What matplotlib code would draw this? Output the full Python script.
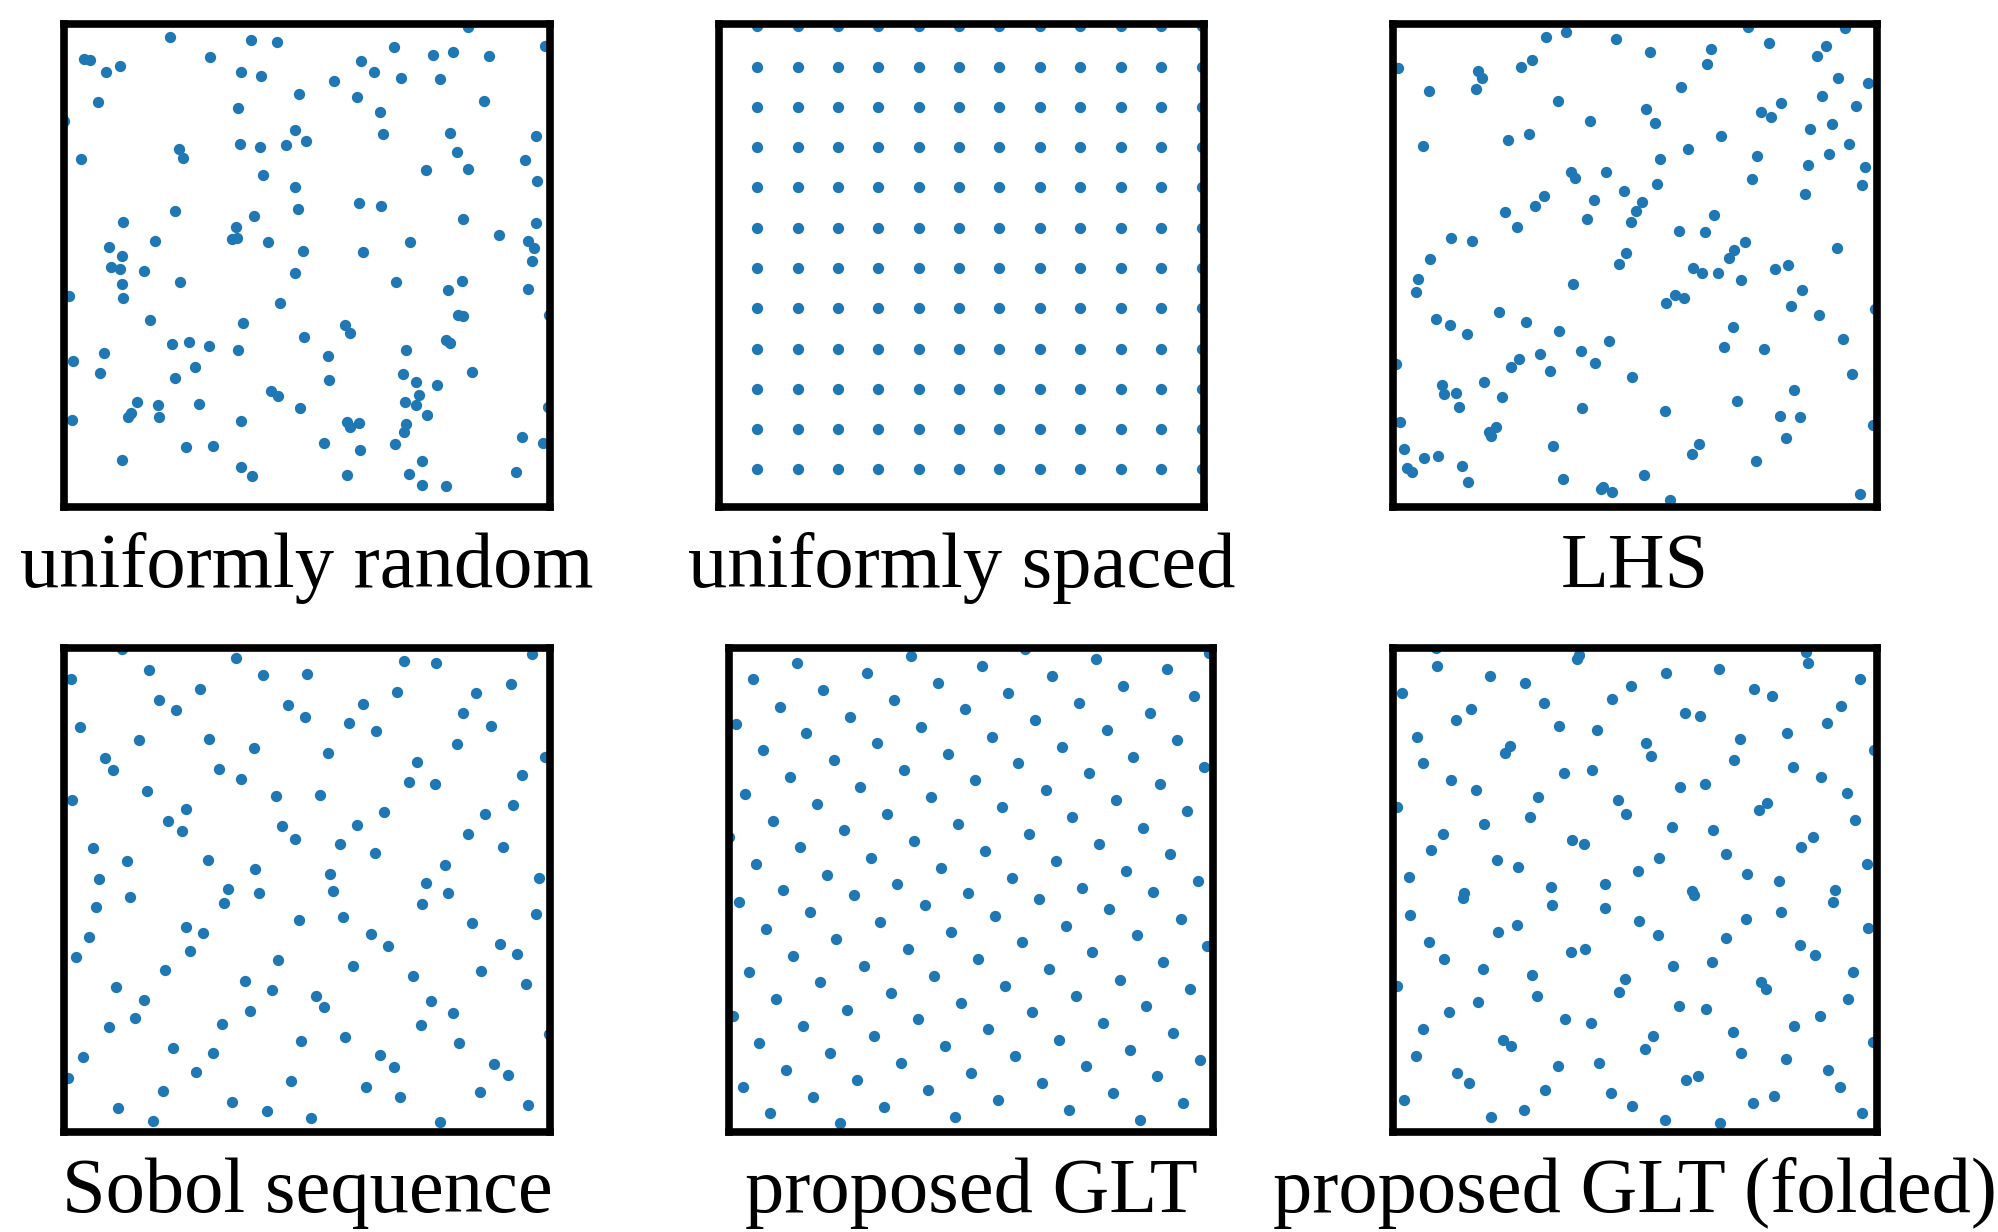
import matplotlib
matplotlib.use("Agg")
import matplotlib.pyplot as plt

# ---------------------------------------------------------------
# Sample points in the unit square, one list of (x, y) per scheme
# ---------------------------------------------------------------
UNIFORM_RANDOM = [
    (0.218, 0.974), (0.385, 0.967), (0.438, 0.962), (0.832, 0.994), (0.990, 0.954),
    (0.041, 0.927), (0.053, 0.925), (0.116, 0.914), (0.087, 0.901), (0.301, 0.932),
    (0.364, 0.900), (0.405, 0.892), (0.678, 0.952), (0.759, 0.935), (0.800, 0.941),
    (0.874, 0.934), (0.612, 0.923), (0.637, 0.901), (0.693, 0.889), (0.774, 0.886),
    (0.555, 0.881), (0.484, 0.856), (0.602, 0.848), (0.069, 0.839), (0.359, 0.827),
    (0.651, 0.818), (0.864, 0.840), (0.001, 0.800), (0.475, 0.780), (0.497, 0.758),
    (0.656, 0.772), (0.794, 0.774), (0.972, 0.769), (0.237, 0.741), (0.244, 0.723),
    (0.363, 0.752), (0.404, 0.745), (0.457, 0.749), (0.036, 0.721), (0.808, 0.734),
    (0.949, 0.719), (0.744, 0.697), (0.832, 0.700), (0.973, 0.674), (0.409, 0.687),
    (0.475, 0.662), (0.228, 0.613), (0.121, 0.591), (0.606, 0.630), (0.652, 0.623),
    (0.481, 0.616), (0.390, 0.602), (0.820, 0.597), (0.971, 0.587), (0.354, 0.579),
    (0.346, 0.555), (0.355, 0.557), (0.187, 0.551), (0.419, 0.548), (0.711, 0.549),
    (0.896, 0.563), (0.955, 0.551), (0.967, 0.536), (0.093, 0.538), (0.119, 0.519),
    (0.492, 0.530), (0.615, 0.527), (0.962, 0.509), (0.097, 0.496),
    (0.115, 0.492), (0.165, 0.488), (0.119, 0.461), (0.121, 0.432), (0.239, 0.466),
    (0.010, 0.436), (0.475, 0.485), (0.684, 0.466), (0.790, 0.450), (0.818, 0.468),
    (0.954, 0.452), (0.444, 0.423), (0.177, 0.387), (0.369, 0.380), (0.811, 0.397),
    (0.820, 0.396), (0.997, 0.397), (0.579, 0.376), (0.589, 0.361), (0.493, 0.352),
    (0.223, 0.337), (0.257, 0.342), (0.298, 0.334), (0.359, 0.326), (0.785, 0.346),
    (0.795, 0.340), (0.703, 0.325), (0.082, 0.318), (0.019, 0.303), (0.543, 0.312),
    (0.269, 0.290), (0.075, 0.278), (0.228, 0.268), (0.697, 0.275), (0.840, 0.279),
    (0.546, 0.263), (0.725, 0.258), (0.767, 0.252), (0.425, 0.240), (0.441, 0.230),
    (0.731, 0.232), (0.150, 0.218), (0.193, 0.212), (0.278, 0.214), (0.701, 0.218),
    (0.724, 0.211), (0.486, 0.204), (0.995, 0.207), (0.138, 0.194), (0.132, 0.186),
    (0.196, 0.186), (0.016, 0.181), (0.364, 0.179), (0.747, 0.190), (0.582, 0.176),
    (0.589, 0.166), (0.608, 0.173), (0.704, 0.171), (0.700, 0.156), (0.943, 0.144),
    (0.986, 0.132), (0.535, 0.132), (0.682, 0.130), (0.252, 0.125), (0.307, 0.127),
    (0.610, 0.119), (0.120, 0.097), (0.736, 0.096), (0.364, 0.082), (0.387, 0.064),
    (0.582, 0.067), (0.709, 0.068), (0.930, 0.073), (0.737, 0.046), (0.787, 0.043),
]

SPACED_LEVELS = [0.078, 0.162, 0.245, 0.328, 0.412, 0.495,
                 0.578, 0.662, 0.745, 0.828, 0.912, 0.995]

LHS = [
    (0.317, 0.973), (0.358, 0.983), (0.461, 0.968), (0.530, 0.943), (0.658, 0.948),
    (0.649, 0.918), (0.734, 0.993), (0.777, 0.961), (0.894, 0.954), (0.876, 0.934),
    (0.933, 0.991), (0.919, 0.889), (0.981, 0.878), (0.010, 0.908), (0.176, 0.903),
    (0.183, 0.888), (0.172, 0.865), (0.264, 0.910), (0.287, 0.925), (0.074, 0.861),
    (0.340, 0.841), (0.522, 0.825), (0.542, 0.794), (0.596, 0.869), (0.760, 0.817),
    (0.782, 0.807), (0.801, 0.836), (0.887, 0.851), (0.957, 0.830), (0.862, 0.783),
    (0.908, 0.792), (0.406, 0.800), (0.238, 0.760), (0.280, 0.772), (0.062, 0.747),
    (0.678, 0.768), (0.610, 0.741), (0.942, 0.752), (0.551, 0.720), (0.752, 0.727),
    (0.857, 0.709), (0.900, 0.730), (0.976, 0.703), (0.367, 0.694), (0.377, 0.682),
    (0.440, 0.693), (0.741, 0.680), (0.546, 0.669), (0.969, 0.667), (0.851, 0.649),
    (0.311, 0.644), (0.293, 0.624), (0.477, 0.654), (0.416, 0.636), (0.514, 0.631),
    (0.502, 0.613), (0.231, 0.610), (0.257, 0.579), (0.401, 0.596), (0.491, 0.590),
    (0.664, 0.605), (0.590, 0.571), (0.644, 0.569), (0.119, 0.556), (0.164, 0.551),
    (0.727, 0.549), (0.704, 0.533), (0.694, 0.516), (0.917, 0.536), (0.077, 0.513),
    (0.481, 0.525), (0.466, 0.503), (0.790, 0.493), (0.817, 0.501),
    (0.051, 0.472), (0.048, 0.445), (0.371, 0.461), (0.619, 0.495), (0.638, 0.485),
    (0.672, 0.485), (0.719, 0.471), (0.846, 0.450), (0.822, 0.417), (0.565, 0.423),
    (0.583, 0.438), (0.601, 0.433), (0.880, 0.397), (0.995, 0.410), (0.088, 0.390),
    (0.117, 0.376), (0.152, 0.359), (0.220, 0.403), (0.274, 0.384), (0.342, 0.364),
    (0.446, 0.343), (0.702, 0.372), (0.683, 0.332), (0.767, 0.328), (0.930, 0.347),
    (0.006, 0.297), (0.244, 0.289), (0.260, 0.306), (0.304, 0.317), (0.324, 0.282),
    (0.388, 0.322), (0.417, 0.298), (0.493, 0.269), (0.949, 0.276), (0.101, 0.253),
    (0.106, 0.233), (0.131, 0.237), (0.136, 0.208), (0.189, 0.258), (0.225, 0.227),
    (0.390, 0.205), (0.563, 0.199), (0.711, 0.219), (0.829, 0.243), (0.800, 0.189),
    (0.840, 0.186), (0.015, 0.177), (0.992, 0.169), (0.198, 0.155), (0.213, 0.165),
    (0.202, 0.146), (0.022, 0.120), (0.331, 0.126), (0.632, 0.130), (0.617, 0.110),
    (0.811, 0.143), (0.064, 0.101), (0.093, 0.106), (0.142, 0.084), (0.751, 0.095),
    (0.029, 0.081), (0.039, 0.072), (0.154, 0.052), (0.351, 0.057), (0.519, 0.066),
    (0.430, 0.037), (0.434, 0.042), (0.453, 0.032), (0.572, 0.014), (0.964, 0.026),
]

SOBOL = [
    (0.119, 0.997), (0.353, 0.979), (0.699, 0.973), (0.766, 0.968), (0.962, 0.987),
    (0.014, 0.935), (0.174, 0.955), (0.410, 0.944), (0.500, 0.946), (0.279, 0.916),
    (0.196, 0.892), (0.231, 0.871), (0.460, 0.882), (0.495, 0.857), (0.615, 0.884),
    (0.587, 0.846), (0.643, 0.828), (0.686, 0.910), (0.847, 0.906), (0.920, 0.925),
    (0.821, 0.866), (0.878, 0.838), (0.809, 0.802), (0.033, 0.836), (0.154, 0.809),
    (0.299, 0.813), (0.391, 0.793), (0.544, 0.784), (0.084, 0.773), (0.100, 0.748),
    (0.318, 0.751), (0.364, 0.730), (0.726, 0.764), (0.710, 0.724), (0.763, 0.718),
    (0.990, 0.775), (0.943, 0.738), (0.017, 0.686), (0.171, 0.705), (0.437, 0.694),
    (0.527, 0.696), (0.252, 0.667), (0.215, 0.643), (0.243, 0.621), (0.658, 0.661),
    (0.866, 0.656), (0.924, 0.676), (0.448, 0.632), (0.475, 0.606), (0.603, 0.634),
    (0.568, 0.596), (0.639, 0.577), (0.832, 0.615), (0.904, 0.588), (0.060, 0.586),
    (0.129, 0.559), (0.296, 0.563), (0.394, 0.543), (0.547, 0.534), (0.783, 0.552),
    (0.978, 0.525), (0.073, 0.523), (0.745, 0.514), (0.337, 0.503), (0.402, 0.494),
    (0.554, 0.497),
    (0.066, 0.465), (0.136, 0.485), (0.329, 0.473), (0.790, 0.494), (0.737, 0.472),
    (0.971, 0.451), (0.052, 0.402), (0.025, 0.362), (0.250, 0.423), (0.287, 0.412),
    (0.260, 0.375), (0.483, 0.439), (0.575, 0.445), (0.632, 0.409), (0.667, 0.384),
    (0.840, 0.432), (0.897, 0.389), (0.932, 0.368), (0.207, 0.335), (0.440, 0.355),
    (0.595, 0.342), (0.718, 0.322), (0.859, 0.333), (0.951, 0.305), (0.108, 0.300),
    (0.372, 0.312), (0.429, 0.293), (0.164, 0.272), (0.519, 0.280), (0.536, 0.258),
    (0.756, 0.270), (0.801, 0.245), (0.147, 0.235), (0.092, 0.216), (0.383, 0.251),
    (0.325, 0.224), (0.734, 0.222), (0.487, 0.189), (0.579, 0.196), (0.813, 0.183),
    (0.997, 0.202), (0.224, 0.173), (0.307, 0.163), (0.040, 0.154), (0.650, 0.160),
    (0.678, 0.134), (0.885, 0.140), (0.914, 0.118), (0.008, 0.112), (0.271, 0.125),
    (0.467, 0.105), (0.204, 0.085), (0.622, 0.092), (0.691, 0.072), (0.856, 0.082),
    (0.112, 0.050), (0.345, 0.062), (0.418, 0.043), (0.955, 0.055), (0.183, 0.022),
    (0.509, 0.028), (0.774, 0.020),
]

GLT = [
    (0.140, 0.970), (0.049, 0.935), (0.285, 0.948), (0.376, 0.983), (0.522, 0.963),
    (0.612, 0.997), (0.759, 0.977), (0.668, 0.942), (0.905, 0.956), (0.992, 0.990),
    (0.815, 0.921), (0.960, 0.900), (0.195, 0.914), (0.432, 0.928), (0.577, 0.907),
    (0.341, 0.893), (0.105, 0.879), (0.488, 0.873), (0.724, 0.886), (0.870, 0.866),
    (0.014, 0.844), (0.251, 0.858), (0.397, 0.837), (0.633, 0.851), (0.780, 0.831),
    (0.926, 0.810), (0.160, 0.824), (0.306, 0.803), (0.543, 0.817), (0.689, 0.796),
    (0.070, 0.789), (0.452, 0.782), (0.835, 0.775), (0.216, 0.769), (0.598, 0.762),
    (0.362, 0.748), (0.744, 0.741), (0.981, 0.755), (0.125, 0.733), (0.508, 0.727),
    (0.271, 0.713), (0.654, 0.706), (0.891, 0.720), (0.034, 0.699), (0.418, 0.692),
    (0.181, 0.678), (0.564, 0.671), (0.800, 0.685), (0.947, 0.664), (0.327, 0.657),
    (0.709, 0.651), (0.090, 0.643), (0.473, 0.636), (0.856, 0.629), (0.237, 0.623),
    (0.619, 0.616), (0.001, 0.609), (0.383, 0.602), (0.765, 0.595), (0.147, 0.588),
    (0.529, 0.581), (0.912, 0.574), (0.293, 0.567), (0.675, 0.560), (0.056, 0.553),
    (0.439, 0.546), (0.821, 0.539), (0.202, 0.532), (0.585, 0.525), (0.968, 0.519),
    (0.348, 0.512), (0.730, 0.505), (0.111, 0.501), (0.494, 0.494),
    (0.021, 0.475), (0.258, 0.489), (0.404, 0.468), (0.640, 0.482), (0.786, 0.461),
    (0.877, 0.496), (0.167, 0.454), (0.313, 0.433), (0.550, 0.447), (0.696, 0.426),
    (0.933, 0.440), (0.076, 0.419), (0.459, 0.413), (0.842, 0.406), (0.222, 0.399),
    (0.605, 0.392), (0.988, 0.385), (0.132, 0.364), (0.369, 0.378), (0.515, 0.357),
    (0.751, 0.371), (0.042, 0.330), (0.278, 0.344), (0.424, 0.322), (0.661, 0.337),
    (0.897, 0.351), (0.187, 0.309), (0.570, 0.302), (0.807, 0.315), (0.098, 0.274),
    (0.334, 0.288), (0.717, 0.281), (0.953, 0.295), (0.480, 0.267), (0.862, 0.260),
    (0.244, 0.253), (0.626, 0.247), (0.008, 0.240), (0.390, 0.233), (0.153, 0.219),
    (0.535, 0.212), (0.773, 0.225), (0.918, 0.205), (0.299, 0.198), (0.682, 0.191),
    (0.063, 0.184), (0.446, 0.177), (0.829, 0.170), (0.209, 0.163), (0.591, 0.156),
    (0.974, 0.149), (0.355, 0.143), (0.738, 0.136), (0.118, 0.129), (0.501, 0.122),
    (0.884, 0.115), (0.264, 0.107), (0.647, 0.101), (0.028, 0.094), (0.411, 0.087),
    (0.793, 0.080), (0.174, 0.073), (0.556, 0.066), (0.939, 0.059), (0.320, 0.052),
    (0.703, 0.045), (0.084, 0.039), (0.466, 0.032), (0.849, 0.025), (0.229, 0.018),
]

GLT_FOLDED = [
    (0.089, 0.999), (0.091, 0.963), (0.384, 0.985), (0.380, 0.977), (0.854, 0.991),
    (0.857, 0.970), (0.019, 0.908), (0.200, 0.942), (0.273, 0.928), (0.312, 0.887),
    (0.453, 0.894), (0.492, 0.921), (0.565, 0.949), (0.673, 0.956), (0.746, 0.915),
    (0.784, 0.901), (0.965, 0.935), (0.926, 0.880), (0.896, 0.845), (0.130, 0.852),
    (0.161, 0.873), (0.342, 0.838), (0.422, 0.831), (0.604, 0.866), (0.634, 0.859),
    (0.815, 0.824), (0.716, 0.811), (0.050, 0.817), (0.242, 0.797), (0.231, 0.783),
    (0.523, 0.804), (0.534, 0.776), (0.704, 0.769), (0.994, 0.790), (0.061, 0.762),
    (0.353, 0.741), (0.412, 0.748), (0.826, 0.755), (0.884, 0.734), (0.119, 0.727),
    (0.172, 0.707), (0.592, 0.713), (0.645, 0.720), (0.937, 0.700), (0.009, 0.672),
    (0.300, 0.693), (0.464, 0.686), (0.481, 0.658), (0.773, 0.679), (0.757, 0.665),
    (0.954, 0.644), (0.284, 0.651), (0.188, 0.637), (0.576, 0.630), (0.662, 0.623),
    (0.103, 0.616), (0.868, 0.610), (0.843, 0.589), (0.370, 0.603), (0.395, 0.596),
    (0.687, 0.575), (0.078, 0.582), (0.550, 0.567), (0.214, 0.561), (0.259, 0.547),
    (0.507, 0.540), (0.732, 0.533), (0.979, 0.554), (0.033, 0.526), (0.798, 0.519),
    (0.147, 0.494), (0.326, 0.506), (0.439, 0.512), (0.913, 0.501),
    (0.145, 0.483), (0.036, 0.448), (0.328, 0.469), (0.437, 0.462), (0.617, 0.497),
    (0.621, 0.489), (0.910, 0.476), (0.801, 0.455), (0.729, 0.441), (0.509, 0.435),
    (0.548, 0.407), (0.689, 0.400), (0.981, 0.421), (0.217, 0.414), (0.256, 0.428),
    (0.075, 0.393), (0.105, 0.358), (0.367, 0.372), (0.397, 0.379), (0.186, 0.337),
    (0.287, 0.324), (0.298, 0.282), (0.479, 0.317), (0.467, 0.289), (0.579, 0.344),
    (0.660, 0.351), (0.840, 0.386), (0.871, 0.365), (0.951, 0.331), (0.760, 0.310),
    (0.771, 0.296), (0.008, 0.302), (0.175, 0.268), (0.590, 0.261), (0.647, 0.254),
    (0.940, 0.275), (0.882, 0.240), (0.116, 0.247), (0.063, 0.212), (0.356, 0.233),
    (0.409, 0.226), (0.829, 0.219), (0.702, 0.206), (0.537, 0.199), (0.227, 0.191),
    (0.244, 0.178), (0.520, 0.171), (0.718, 0.164), (0.992, 0.185), (0.047, 0.157),
    (0.340, 0.136), (0.426, 0.143), (0.812, 0.150), (0.899, 0.129), (0.924, 0.094),
    (0.133, 0.122), (0.158, 0.101), (0.314, 0.087), (0.450, 0.081), (0.606, 0.108),
    (0.631, 0.115), (0.022, 0.067), (0.202, 0.032), (0.270, 0.046), (0.494, 0.053),
    (0.743, 0.060), (0.787, 0.074), (0.562, 0.025), (0.676, 0.019), (0.968, 0.039),
]

LABELS = ["uniformly random", "uniformly spaced", "LHS",
          "Sobol sequence", "proposed GLT", "proposed GLT (folded)"]

spaced = [(x, y) for y in SPACED_LEVELS for x in SPACED_LEVELS]
PANELS = [UNIFORM_RANDOM, spaced, LHS, SOBOL, GLT, GLT_FOLDED]

# axes boxes in pixels: left, top, right, bottom
FIG_W, FIG_H = 1998, 1232
BOXES = [
    (64, 24, 550, 507), (719, 24, 1204, 507), (1393, 24, 1877, 507),
    (64, 648, 550, 1132), (729, 648, 1213, 1132), (1393, 648, 1877, 1132),
]

fig = plt.figure(figsize=(FIG_W / 100, FIG_H / 100), dpi=100)
fig.patch.set_facecolor("white")

for pts, label, (l, t, r, b) in zip(PANELS, LABELS, BOXES):
    ax = fig.add_axes([l / FIG_W, 1 - b / FIG_H, (r - l) / FIG_W, (b - t) / FIG_H])
    xs = [p[0] for p in pts]
    ys = [p[1] for p in pts]
    ax.scatter(xs, ys, s=66, color="#1f77b4", linewidths=0)
    ax.set_xlim(0, 1)
    ax.set_ylim(0, 1)
    ax.set_xticks([])
    ax.set_yticks([])
    for sp in ax.spines.values():
        sp.set_linewidth(5.5)
        sp.set_color("black")
    ax.text(0.5, -80 / (b - t), label, transform=ax.transAxes,
            ha="center", va="baseline", fontsize=56.5,
            family=["Liberation Serif", "DejaVu Serif"])

fig.savefig("out.png", dpi=100)
